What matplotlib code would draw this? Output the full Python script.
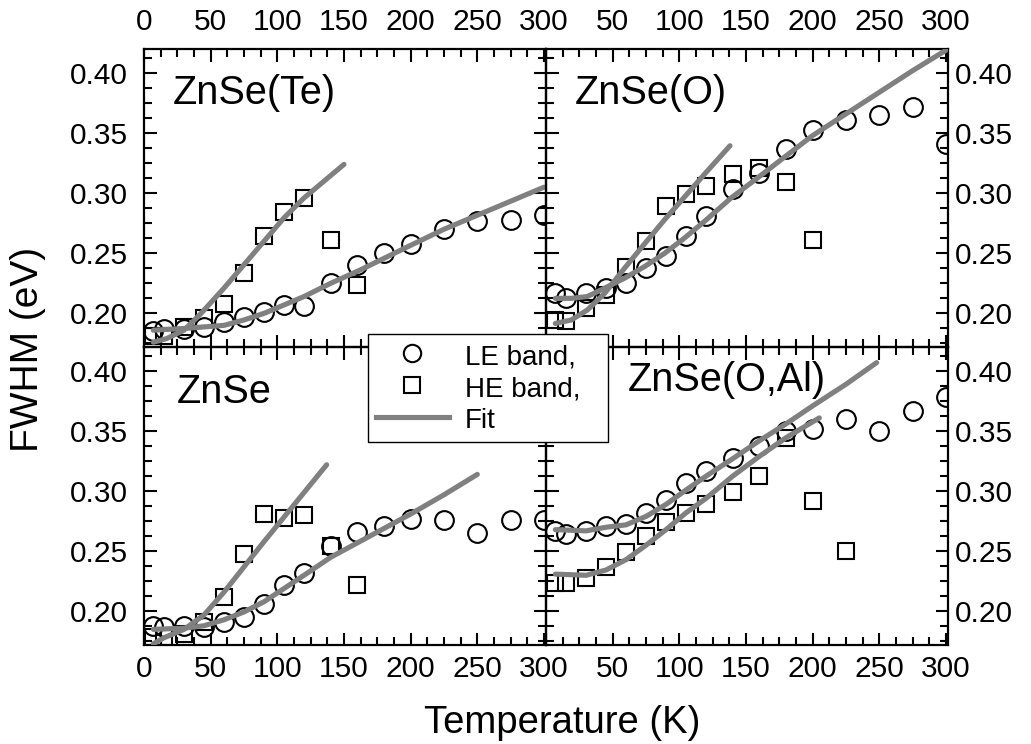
import matplotlib
matplotlib.use("Agg")
import matplotlib.pyplot as plt
from matplotlib.ticker import MultipleLocator, FormatStrFormatter, FixedLocator, FixedFormatter
from matplotlib.lines import Line2D

plt.rcParams['font.family'] = ['Liberation Sans', 'DejaVu Sans']

# ---------------- data ----------------
T = [7, 15, 30, 45, 60, 75, 90, 105, 120, 140, 160, 180, 200, 225, 250, 275, 300]

# ZnSe(Te)
te_le = [0.185, 0.187, 0.187, 0.189, 0.193, 0.197, 0.201, 0.207, 0.206, 0.225, 0.240,
         0.250, 0.258, 0.270, 0.277, 0.278, 0.282]
te_he_T = [7, 15, 30, 45, 60, 75, 90, 105, 120, 140, 160]
te_he = [0.181, 0.181, 0.189, 0.196, 0.2075, 0.2335, 0.264, 0.2845, 0.2957, 0.261, 0.224]
te_lefit_T = [7, 30, 60, 75, 90, 105, 120, 140, 162, 197, 225, 300]
te_lefit = [0.186, 0.1874, 0.190, 0.1945, 0.200, 0.207, 0.214, 0.225, 0.236, 0.255, 0.270, 0.305]
te_hefit_T = [7, 17, 30, 42, 60, 75, 90, 105, 120, 150]
te_hefit = [0.176, 0.179, 0.186, 0.199, 0.221, 0.2405, 0.260, 0.2795, 0.296, 0.324]

# ZnSe(O)
o_le = [0.2167, 0.2131, 0.2167, 0.221, 0.225, 0.238, 0.2474, 0.2642, 0.281, 0.3033, 0.317,
        0.337, 0.353, 0.361, 0.365, 0.372, 0.341]
o_he_T = [7, 15, 30, 45, 60, 75, 90, 105, 120, 140, 160, 180, 200]
o_he = [0.1945, 0.1936, 0.2042, 0.2154, 0.2382, 0.2606, 0.2893, 0.2996, 0.306, 0.3158,
        0.3213, 0.309, 0.261]
o_lefit_T = [7, 19, 31, 44, 59, 74, 89, 104, 119, 139, 159, 180, 200, 225, 250, 275, 300]
o_lefit = [0.2125, 0.2125, 0.214, 0.221, 0.2293, 0.239, 0.250, 0.2628, 0.2767, 0.2962,
           0.313, 0.331, 0.348, 0.366, 0.384, 0.402, 0.419]
o_hefit_T = [7, 19, 31, 44, 59, 74, 89, 104, 119, 138]
o_hefit = [0.1916, 0.1945, 0.2028, 0.2167, 0.2377, 0.258, 0.278, 0.297, 0.316, 0.3395]

# ZnSe
z_le = [0.188, 0.187, 0.188, 0.187, 0.191, 0.195, 0.2065, 0.222, 0.2316, 0.254, 0.266,
        0.271, 0.277, 0.276, 0.265, 0.276, 0.276]
z_he_T = [7, 15, 30, 45, 60, 75, 90, 105, 120, 140, 160]
z_he = [0.179, 0.179, 0.181, 0.191, 0.212, 0.2475, 0.281, 0.2776, 0.280, 0.254, 0.222]
z_lefit_T = [7, 30, 45, 60, 75, 90, 105, 120, 140, 160, 180, 200, 225, 250]
z_lefit = [0.185, 0.186, 0.188, 0.193, 0.1995, 0.208, 0.219, 0.230, 0.245, 0.257, 0.269,
           0.281, 0.297, 0.314]
z_hefit_T = [7, 15, 30, 45, 60, 90, 137]
z_hefit = [0.173, 0.178, 0.185, 0.197, 0.216, 0.258, 0.322]

# ZnSe(O,Al)
al_le = [0.267, 0.264, 0.267, 0.271, 0.273, 0.282, 0.293, 0.307, 0.317, 0.328, 0.338,
         0.350, 0.352, 0.360, 0.350, 0.367, 0.378]
al_he_T = [7, 15, 30, 45, 60, 75, 90, 105, 120, 140, 160, 180, 200, 225]
al_he = [0.224, 0.2235, 0.2274, 0.237, 0.249, 0.263, 0.274, 0.282, 0.289, 0.299, 0.313,
         0.3445, 0.2915, 0.250]
al_lefit_T = [7, 30, 45, 60, 75, 90, 105, 120, 140, 160, 180, 200, 225, 248]
al_lefit = [0.268, 0.267, 0.270, 0.272, 0.279, 0.289, 0.301, 0.3125, 0.327, 0.342, 0.356,
            0.371, 0.389, 0.407]
al_hefit_T = [7, 30, 45, 60, 75, 90, 105, 120, 140, 160, 180, 205]
al_hefit = [0.231, 0.230, 0.2344, 0.243, 0.255, 0.268, 0.282, 0.294, 0.3125, 0.329, 0.3445, 0.361]

panel_names = ["ZnSe(Te)", "ZnSe(O)", "ZnSe", "ZnSe(O,Al)"]
legend_labels = ["LE band,", "HE band,", "Fit"]
xlabel = "Temperature (K)"
ylabel = "FWHM (eV)"
xtick_vals = [0, 50, 100, 150, 200, 250, 300]
ytick_vals = [0.20, 0.25, 0.30, 0.35, 0.40]

panels = [
    (T, te_le, te_he_T, te_he, te_lefit_T, te_lefit, te_hefit_T, te_hefit),
    (T, o_le, o_he_T, o_he, o_lefit_T, o_lefit, o_hefit_T, o_hefit),
    (T, z_le, z_he_T, z_he, z_lefit_T, z_lefit, z_hefit_T, z_hefit),
    (T, al_le, al_he_T, al_he, al_lefit_T, al_lefit, al_hefit_T, al_hefit),
]

# ---------------- figure ----------------
W, H = 1031, 744
fig = plt.figure(figsize=(W / 100, H / 100), dpi=100)

xl, xm, xr = 144, 546, 948
yt, ym, yb = 49, 347, 645
rects = [
    (xl / W, 1 - ym / H, (xm - xl) / W, (ym - yt) / H),
    (xm / W, 1 - ym / H, (xr - xm) / W, (ym - yt) / H),
    (xl / W, 1 - yb / H, (xm - xl) / W, (yb - ym) / H),
    (xm / W, 1 - yb / H, (xr - xm) / W, (yb - ym) / H),
]
label_pos = [(173, 93), (575, 93), (177, 392), (628, 380)]

grey = '#808080'
mk = dict(linestyle='none', markerfacecolor='none', markeredgecolor='black', markeredgewidth=1.5)

for i, (rect, data) in enumerate(zip(rects, panels)):
    ax = fig.add_axes(rect)
    Tl, le, hT, he, lfT, lf, hfT, hf = data
    ax.plot(Tl, le, marker='o', markersize=13.5, zorder=2, **mk)
    ax.plot(hT, he, marker='s', markersize=11.5, zorder=2, **mk)
    ax.plot(lfT, lf, color=grey, lw=3.7, solid_capstyle='round', solid_joinstyle='round', zorder=3)
    ax.plot(hfT, hf, color=grey, lw=3.7, solid_capstyle='round', solid_joinstyle='round', zorder=3)

    ax.set_xlim(0, 301.5)
    ax.set_ylim(0.172, 0.42)
    ax.xaxis.set_major_locator(FixedLocator(xtick_vals))
    ax.xaxis.set_minor_locator(MultipleLocator(12.5))
    ax.yaxis.set_major_locator(FixedLocator(ytick_vals))
    ax.yaxis.set_minor_locator(MultipleLocator(0.0125))
    if i % 2 == 1:
        ax.xaxis.set_major_formatter(FixedFormatter([''] + [str(v) for v in xtick_vals[1:]]))
    else:
        ax.xaxis.set_major_formatter(FixedFormatter([str(v) for v in xtick_vals]))
    ax.yaxis.set_major_formatter(FormatStrFormatter('%.2f'))

    ax.tick_params(which='both', direction='in', top=True, bottom=True, left=True, right=True,
                   labelsize=21.5, width=1.5)
    ax.tick_params(which='major', length=9)
    ax.tick_params(which='minor', length=5.5)
    top_row = i < 2
    right_col = i % 2 == 1
    ax.tick_params(axis='x', labeltop=top_row, labelbottom=not top_row)
    ax.tick_params(axis='x', pad=9.5 if top_row else 7)
    ax.tick_params(axis='y', labelleft=not right_col, labelright=right_col)
    ax.tick_params(axis='y', pad=5 if right_col else 11.5)
    for s in ax.spines.values():
        s.set_linewidth(1.6)
    ax.set_facecolor('none')

    fig.text(label_pos[i][0] / W, 1 - label_pos[i][1] / H, panel_names[i], fontsize=28.5,
             ha='left', va='center')

fig.text(562 / W, 1 - 733 / H, xlabel, fontsize=27.5, ha='center', va='baseline')
fig.text(28 / W, 1 - 349 / H, ylabel, fontsize=28, ha='center', va='center', rotation=90)

handles = [
    Line2D([], [], marker='o', markersize=12.5, **mk),
    Line2D([], [], marker='s', markersize=11, **mk),
    Line2D([], [], color=grey, lw=3.7),
]
leg = fig.legend(handles, legend_labels, loc='upper left',
                 bbox_to_anchor=(368 / W, 1 - 442 / H, 240 / W, 108 / H),
                 bbox_transform=fig.transFigure, mode='expand',
                 fontsize=20, frameon=True, fancybox=False, borderaxespad=0,
                 borderpad=0.3, handlelength=2.6, handletextpad=0.6, labelspacing=0.14,
                 handleheight=1.0, numpoints=1)
leg.get_frame().set_edgecolor('black')
leg.get_frame().set_linewidth(1.0)
leg.get_frame().set_alpha(None)
leg.get_frame().set_facecolor('white')

fig.savefig('out.png', dpi=100)
